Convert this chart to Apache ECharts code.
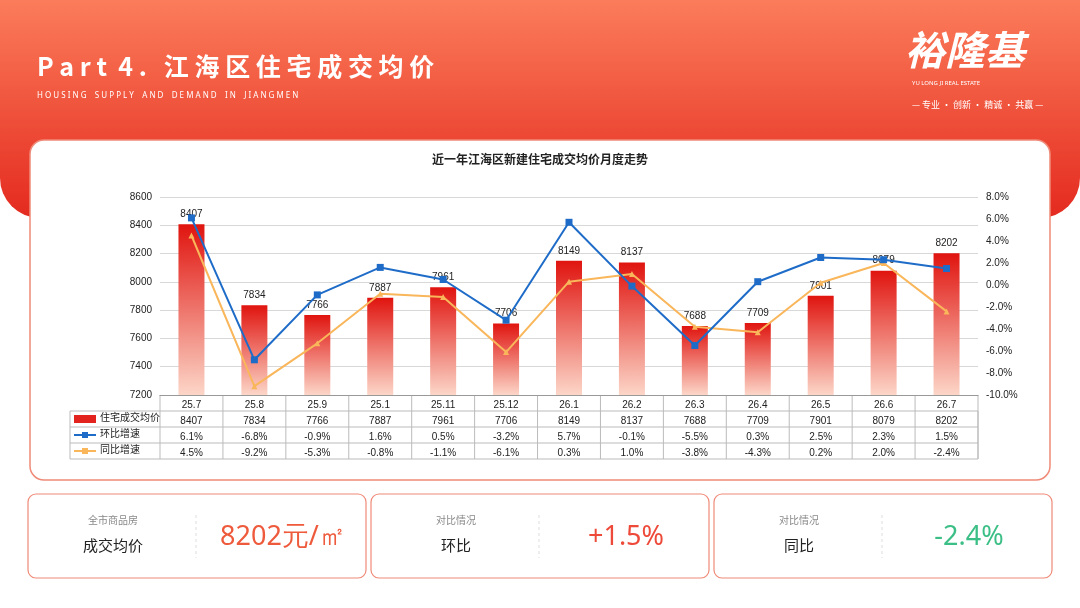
<!DOCTYPE html>
<html><head><meta charset="utf-8">
<script src="https://cdn.jsdelivr.net/npm/echarts@6/dist/echarts.min.js"></script>
<style>html,body{margin:0;padding:0;background:#fff}#chart{width:1080px;height:608px}</style>
</head><body><div id="chart"></div>
<script>
var months = ['25.7','25.8','25.9','25.1','25.11','25.12','26.1','26.2','26.3','26.4','26.5','26.6','26.7'];
var price = [8407,7834,7766,7887,7961,7706,8149,8137,7688,7709,7901,8079,8202];
var mom = [6.1,-6.8,-0.9,1.6,0.5,-3.2,5.7,-0.1,-5.5,0.3,2.5,2.3,1.5];
var yoy = [4.5,-9.2,-5.3,-0.8,-1.1,-6.1,0.3,1.0,-3.8,-4.3,0.2,2.0,-2.4];

var L = 160, R = 978, T = 197, B = 395;
var cw = (R - L) / months.length;
function pct(v){ return v.toFixed(1) + '%'; }
function tableAxis(data, offset){
    return {type:'category', gridIndex:0, position:'bottom', offset:offset, data:data,
        axisLine:{show:false}, axisTick:{show:false},
        axisLabel:{interval:0, fontSize:10, color:'#222', margin:5}};
}
var rows = [
    {name:'住宅成交均价', y:419, mark:'bar'},
    {name:'环比增速', y:435, mark:'blue'},
    {name:'同比增速', y:451, mark:'orange'}
];
var graphics = [
    {type:'rect', shape:{x:0, y:0, width:1080, height:218, r:[0,0,40,40]}, z:-10,
        style:{fill:new echarts.graphic.LinearGradient(0,0,0,1,[{offset:0,color:'#fb7c5a'},{offset:1,color:'#e42a1f'}])}},
    {type:'text', left:37, top:54, style:{text:'P a r t  4 .   江 海 区 住 宅 成 交 均 价', fill:'#fff', font:'bold 25px "Noto Sans CJK SC"'}},
    {type:'text', left:37, top:92, style:{text:'H O U S I N G    S U P P L Y    A N D    D E M A N D    I N    J I A N G M E N', fill:'#fff', font:'8px "Noto Sans"'}},
    {type:'text', left:905, top:30, style:{text:'裕隆基', fill:'#fff', font:'italic bold 40px "Noto Sans CJK SC"'}},
    {type:'text', left:912, top:80, style:{text:'YU LONG JI REAL ESTATE', fill:'#fff', font:'6px "Noto Sans"'}},
    {type:'text', left:912, top:100, style:{text:'— 专业 · 创新 · 精诚 · 共赢 —', fill:'#fff', font:'9px "Noto Sans CJK SC"'}},
    {type:'rect', shape:{x:30, y:140, width:1020, height:340, r:14}, z:-5,
        style:{fill:'#fff', stroke:'#f08a78', lineWidth:1.5}},
    {type:'rect', shape:{x:70, y:411, width:908, height:48}, style:{fill:'none', stroke:'#bbb', lineWidth:1}},
    {type:'line', shape:{x1:70, y1:427, x2:978, y2:427}, style:{stroke:'#bbb'}},
    {type:'line', shape:{x1:70, y1:443, x2:978, y2:443}, style:{stroke:'#bbb'}},
    {type:'line', shape:{x1:160, y1:395, x2:160, y2:459}, style:{stroke:'#bbb'}}
];
for (var i = 1; i <= months.length; i++) {
    graphics.push({type:'line', shape:{x1:L + cw*i, y1:395, x2:L + cw*i, y2:459}, style:{stroke:'#bbb'}});
}
rows.forEach(function(r){
    if (r.mark == 'bar') graphics.push({type:'rect', shape:{x:74, y:r.y-4, width:22, height:8}, style:{fill:'#e3231d'}});
    else {
        var c = r.mark == 'blue' ? '#1e6cc8' : '#f9b65a';
        graphics.push({type:'line', shape:{x1:74, y1:r.y, x2:96, y2:r.y}, style:{stroke:c, lineWidth:2}});
        graphics.push({type:'rect', shape:{x:82, y:r.y-3, width:6, height:6}, style:{fill:c}});
    }
    graphics.push({type:'text', left:100, top:r.y-7, style:{text:r.name, fill:'#222', font:'10px "Noto Sans CJK SC"'}});
});
var cards = [
    {x:28, sub:'全市商品房', label:'成交均价', val:'8202元/㎡', color:'#ee5a3c'},
    {x:371, sub:'对比情况', label:'环比', val:'+1.5%', color:'#ee4a3a'},
    {x:714, sub:'对比情况', label:'同比', val:'-2.4%', color:'#3cbf86'}
];
cards.forEach(function(c){
    graphics.push({type:'rect', shape:{x:c.x, y:494, width:338, height:84, r:8}, style:{fill:'#fff', stroke:'#f08a78', lineWidth:1.2}});
    graphics.push({type:'text', x:c.x+85, y:520, style:{text:c.sub, fill:'#888', font:'10px "Noto Sans CJK SC"', align:'center', verticalAlign:'middle'}});
    graphics.push({type:'text', x:c.x+85, y:545, style:{text:c.label, fill:'#222', font:'15px "Noto Sans CJK SC"', align:'center', verticalAlign:'middle'}});
    graphics.push({type:'line', shape:{x1:c.x+168, y1:515, x2:c.x+168, y2:558}, style:{stroke:'#ddd', lineDash:[3,3]}});
    graphics.push({type:'text', x:c.x+255, y:537, style:{text:c.val, fill:c.color, font:'27px "Noto Sans"', align:'center', verticalAlign:'middle'}});
});

var chart = echarts.init(document.getElementById('chart'));
chart.setOption({
    animation: false,
    title: {text:'近一年江海区新建住宅成交均价月度走势', left:'center', top:148,
        textStyle:{fontSize:12, fontWeight:'bold', color:'#222', fontFamily:'Noto Sans CJK SC'}},
    grid: {left:L, right:1080-R, top:T, bottom:608-B},
    xAxis: [
        {type:'category', data:months, axisLine:{onZero:false, lineStyle:{color:'#999'}}, axisTick:{show:false},
            axisLabel:{interval:0, fontSize:10, color:'#222', margin:5}},
        tableAxis(price.map(String), 16),
        tableAxis(mom.map(pct), 32),
        tableAxis(yoy.map(pct), 48)
    ],
    yAxis: [
        {type:'value', min:7200, max:8600, interval:200, axisLine:{show:false},
            axisLabel:{fontSize:10, color:'#222', formatter:function(v){ return String(v); }}, splitLine:{lineStyle:{color:'#d8d8d8'}}},
        {type:'value', min:-10, max:8, interval:2, axisLine:{show:false}, splitLine:{show:false},
            axisLabel:{fontSize:10, color:'#222', formatter:function(v){ return v.toFixed(1) + '%'; }}}
    ],
    series: [
        {type:'bar', data:price, barWidth:26, label:{show:true, position:'top', fontSize:10, color:'#222'},
            itemStyle:{color:new echarts.graphic.LinearGradient(0,0,0,1,[{offset:0,color:'#e0140f'},{offset:1,color:'#fcd6c8'}])}},
        {type:'line', yAxisIndex:1, data:mom, symbol:'rect', symbolSize:7, z:4,
            lineStyle:{color:'#1e6cc8', width:2}, itemStyle:{color:'#1e6cc8'}},
        {type:'line', yAxisIndex:1, data:yoy, symbol:'triangle', symbolSize:6, z:3,
            lineStyle:{color:'#f9b65a', width:2}, itemStyle:{color:'#f9b65a'}}
    ],
    graphic: graphics
});
</script></body></html>
